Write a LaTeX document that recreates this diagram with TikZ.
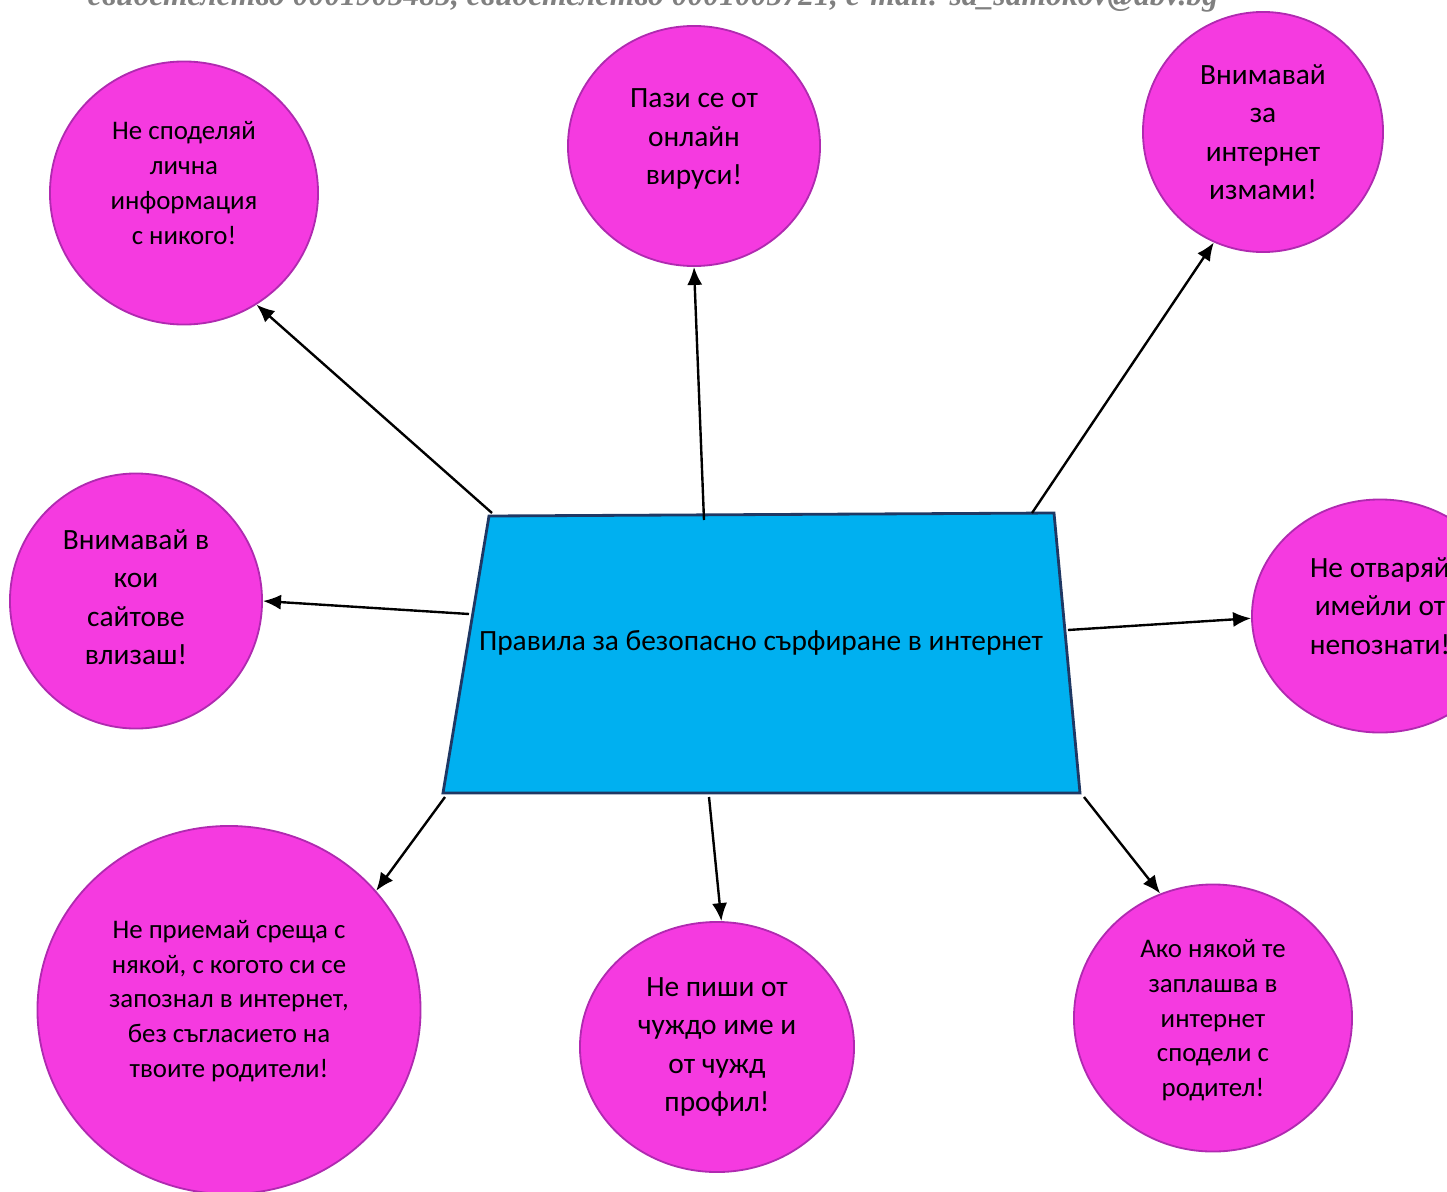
\documentclass[tikz,border=0pt]{standalone}
\usepackage{fontspec}
\setmainfont{Carlito}
\newfontfamily\kopfschrift{Liberation Serif}
\usepackage{xcolor}
\usepackage{tikz}
\usetikzlibrary{shapes.geometric,arrows.meta}
\definecolor{rosa}{HTML}{F53AE0}
\definecolor{lila}{HTML}{B02AB0}
\definecolor{hellblau}{HTML}{00B0F0}
\definecolor{dunkelblau}{HTML}{1F3864}

\begin{document}
\begin{tikzpicture}[x=0.025cm, y=-0.025cm,
    kreis/.style={ellipse, draw=lila, line width=1.3pt, fill=rosa, inner sep=0pt, align=center},
    klein/.style={font=\fontsize{19.1}{24.8}\selectfont},
    gross/.style={font=\fontsize{20.9}{27.3}\selectfont},
    hoch/.style={text depth=#1},
    pfeil/.style={-{Latex[length=0.45cm,width=0.38cm]}, line width=1.7pt}]
    \useasboundingbox (0,0) rectangle (1447,1191);

    % Kopfzeile (abgeschnitten)
    \node[anchor=base, text=gray, font=\kopfschrift\bfseries\itshape\fontsize{22.5}{26}\selectfont] (kopf) at (653,5)
        {свидетелство 0001905485, свидетелство 0001005721, e-mail: sa\_samokov@abv.bg};

    % Hauptknoten
    \draw[draw=dunkelblau, line width=2pt, fill=hellblau] (489,516) -- (1054,513) -- (1080,793) -- (443,793) -- cycle;
    \node[gross] (regeln) at (761,643) {Правила за безопасно сърфиране в интернет};

    % Kreise
    \node[kreis, klein, hoch=0.5cm, minimum width=6.7cm, minimum height=6.575cm] (privat) at (184,193)
        {Не споделяй\\лична\\информация\\с никого!};
    \node[kreis, gross, hoch=0.46cm, minimum width=6.3cm, minimum height=6cm] (viren) at (694,146)
        {Пази се от\\онлайн\\вируси!};
    \node[kreis, gross, minimum width=6cm, minimum height=6cm] (betrug) at (1263,132)
        {Внимавай\\за\\интернет\\измами!};
    \node[kreis, gross, hoch=0.2cm, minimum width=6.3cm, minimum height=6.375cm] (seiten) at (136,601)
        {Внимавай в\\кои\\сайтове\\влизаш!};
    \node[kreis, gross, hoch=0.5cm, minimum width=6.4cm, minimum height=5.825cm] (mails) at (1380,616)
        {Не отваряй\\имейли от\\непознати!};
    \node[kreis, klein, hoch=0.56cm, minimum width=9.575cm, minimum height=9.2cm] (treffen) at (229,1010)
        {Не приемай среща с\\някой, с когото си се\\запознал в интернет,\\без съгласието на\\твоите родители!};
    \node[kreis, gross, minimum width=6.85cm, minimum height=6.25cm] (profil) at (717,1047)
        {Не пиши от\\чуждо име и\\от чужд\\профил!};
    \node[kreis, klein, hoch=0cm, minimum width=6.95cm, minimum height=6.675cm] (drohung) at (1213,1018)
        {Ако някой те\\заплашва в\\интернет\\сподели с\\родител!};

    % Startpunkte der Pfeile
    \coordinate (startPrivat) at (492,513);
    \coordinate (startViren) at (704,520);
    \coordinate (startBetrug) at (1032,513);
    \coordinate (startSeiten) at (469,614);
    \coordinate (startMails) at (1068,630);
    \coordinate (startTreffen) at (445,797);
    \coordinate (startProfil) at (709,797);
    \coordinate (startDrohung) at (1084,797);

    % Verbindungslinien
    \foreach \quelle/\ziel in {startPrivat/privat.303, startViren/viren.270, startBetrug/betrug.246,
                               startSeiten/seiten.0, startMails/mails.181, startTreffen/treffen.39,
                               startProfil/profil.88, startDrohung/drohung.113} {
        \draw[pfeil] (\quelle) -- (\ziel);
    }
\end{tikzpicture}
\end{document}
